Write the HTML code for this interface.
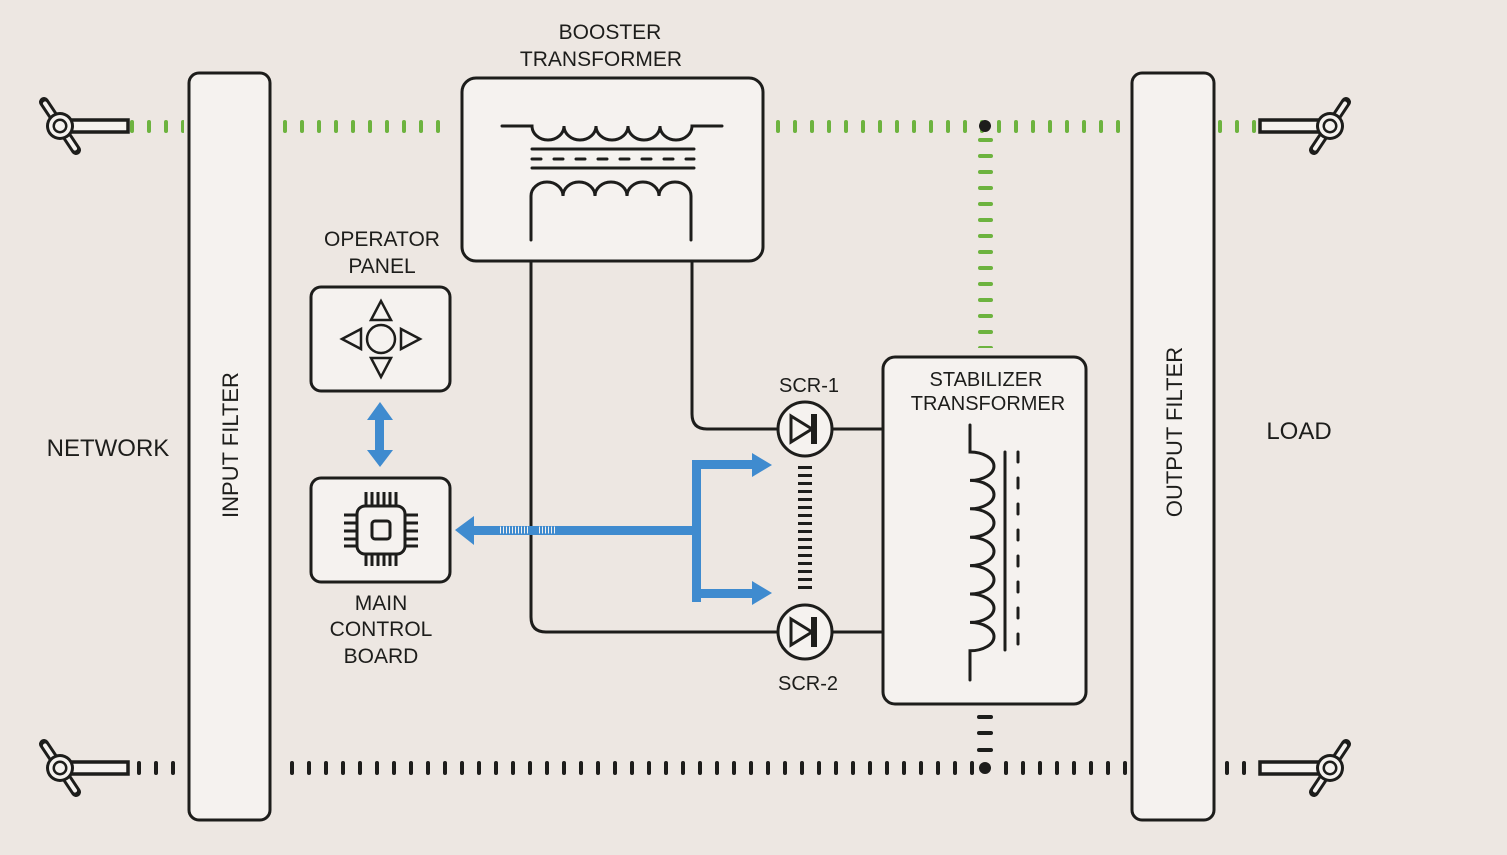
<!DOCTYPE html>
<html><head><meta charset="utf-8"><style>
html,body{margin:0;padding:0;background:#ede7e2;}
svg{display:block;font-family:"Liberation Sans",Arial,sans-serif;}
</style></head><body>
<svg width="1507" height="855" viewBox="0 0 1507 855" xmlns="http://www.w3.org/2000/svg">
<rect width="1507" height="855" fill="#ede7e2"/>
<defs>
<pattern id="gv" x="130" y="0" width="17" height="855" patternUnits="userSpaceOnUse"><rect x="0" y="120" width="4" height="13" rx="2" fill="#6db33f"/></pattern>
<pattern id="gh" x="0" y="138" width="1507" height="16" patternUnits="userSpaceOnUse"><rect x="978" y="0" width="15" height="4" rx="2" fill="#6db33f"/></pattern>
<pattern id="bv" x="137" y="0" width="17" height="855" patternUnits="userSpaceOnUse"><rect x="0" y="761" width="4" height="14" rx="2" fill="#1d1d1b"/></pattern>
<g id="cl">
<line x1="-16" y1="-24" x2="16" y2="24" stroke="#1d1d1b" stroke-width="10" stroke-linecap="round"/>
<line x1="-15" y1="-22.5" x2="15" y2="22.5" stroke="#f5f2ef" stroke-width="4" stroke-linecap="round"/>
<circle r="14" fill="#1d1d1b"/><circle r="11" fill="#f5f2ef"/><circle r="7.5" fill="#1d1d1b"/><circle r="5" fill="#f5f2ef"/>
</g>
<g id="cr">
<line x1="16" y1="-24" x2="-16" y2="24" stroke="#1d1d1b" stroke-width="10" stroke-linecap="round"/>
<line x1="15" y1="-22.5" x2="-15" y2="22.5" stroke="#f5f2ef" stroke-width="4" stroke-linecap="round"/>
<circle r="14" fill="#1d1d1b"/><circle r="11" fill="#f5f2ef"/><circle r="7.5" fill="#1d1d1b"/><circle r="5" fill="#f5f2ef"/>
</g>
</defs>
<g stroke="#1d1d1b" stroke-width="3" fill="#f5f2ef">
<rect x="189" y="73" width="81" height="747" rx="10"/>
<rect x="1132" y="73" width="82" height="747" rx="10"/>
<rect x="462" y="78" width="301" height="183" rx="14"/>
<rect x="311" y="287" width="139" height="104" rx="10"/>
<rect x="311" y="478" width="139" height="104" rx="10"/>
<rect x="883" y="357" width="203" height="347" rx="12"/>
</g>
<rect x="128" y="115" width="56" height="25" fill="url(#gv)"/>
<rect x="277" y="115" width="172" height="25" fill="url(#gv)"/>
<rect x="770" y="115" width="358" height="25" fill="url(#gv)"/>
<rect x="1218" y="115" width="42" height="25" fill="url(#gv)"/>
<rect x="970" y="138" width="30" height="210" fill="url(#gh)"/>
<circle cx="985" cy="126" r="6" fill="#1d1d1b"/>
<rect x="135" y="755" width="40" height="25" fill="url(#bv)"/>
<rect x="284" y="755" width="845" height="25" fill="url(#bv)"/>
<rect x="1218" y="755" width="42" height="25" fill="url(#bv)"/>
<rect x="977" y="755" width="16" height="25" fill="#ede7e2"/>
<circle cx="985" cy="768" r="6" fill="#1d1d1b"/>
<g fill="#1d1d1b"><rect x="977" y="715" width="16" height="4" rx="2"/><rect x="977" y="731" width="16" height="4" rx="2"/><rect x="977" y="748" width="16" height="4" rx="2"/></g>
<g stroke="#1d1d1b" stroke-width="3.5" fill="#f5f2ef">
<rect x="66" y="120" width="62" height="12"/>
<rect x="66" y="762" width="62" height="12"/>
<rect x="1260" y="120" width="64" height="12"/>
<rect x="1260" y="762" width="64" height="12"/>
</g>
<use href="#cl" x="60" y="126"/>
<use href="#cl" x="60" y="768"/>
<use href="#cr" x="1330" y="126"/>
<use href="#cr" x="1330" y="768"/>
<g stroke="#1d1d1b" stroke-width="3" fill="none" stroke-linecap="round">
<path d="M502 126 H532 a16 14 0 0 0 32 0 a16 14 0 0 0 32 0 a16 14 0 0 0 32 0 a16 14 0 0 0 32 0 a16 14 0 0 0 32 0 H722"/>
<line x1="532" y1="149" x2="694" y2="149"/>
<line x1="532" y1="168" x2="694" y2="168"/>
<line x1="532" y1="159" x2="694" y2="159" stroke-dasharray="9 13"/>
<path d="M531 240 V196 a16 14 0 0 1 32 0 a16 14 0 0 1 32 0 a16 14 0 0 1 32 0 a16 14 0 0 1 32 0 a16 14 0 0 1 32 0 V240"/>
<path d="M692 261 V414 q0 15 15 15 H778"/>
<path d="M531 261 V617 q0 15 15 15 H778"/>
<line x1="832" y1="429" x2="883" y2="429"/>
<line x1="832" y1="632" x2="883" y2="632"/>
<path d="M970 425 V452 a24 14.2 0 0 1 0 28.4 a24 14.2 0 0 1 0 28.4 a24 14.2 0 0 1 0 28.4 a24 14.2 0 0 1 0 28.4 a24 14.2 0 0 1 0 28.4 a24 14.2 0 0 1 0 28.4 a24 14.2 0 0 1 0 28.4 V680"/>
<line x1="1005" y1="452" x2="1005" y2="650"/>
<line x1="1018" y1="452" x2="1018" y2="650" stroke-dasharray="10 16"/>
<circle cx="805" cy="429" r="27" fill="#f5f2ef"/>
<circle cx="805" cy="632" r="27" fill="#f5f2ef"/>
<path d="M791 416 L812 429 L791 442 Z"/>
<path d="M791 619 L812 632 L791 645 Z"/>
</g>
<rect x="811" y="414" width="6" height="30" fill="#1d1d1b"/>
<rect x="811" y="617" width="6" height="30" fill="#1d1d1b"/>
<line x1="805" y1="466" x2="805" y2="594" stroke="#1d1d1b" stroke-width="14" stroke-dasharray="3 5"/>
<g stroke="#1d1d1b" stroke-width="2.5" fill="none">
<circle cx="381" cy="339" r="14"/>
<path d="M381 301 L371 320 H391 Z"/>
<path d="M381 377 L371 358 H391 Z"/>
<path d="M342 339 L361 329 V349 Z"/>
<path d="M420 339 L401 329 V349 Z"/>
</g>
<g stroke="#1d1d1b" stroke-width="3" fill="none">
<rect x="357" y="506" width="48" height="48" rx="8"/>
<rect x="372" y="521" width="18" height="18" rx="3"/>
<path d="M366 492 V506 M372 492 V506 M378 492 V506 M384 492 V506 M390 492 V506 M396 492 V506"/>
<path d="M366 554 V566 M372 554 V566 M378 554 V566 M384 554 V566 M390 554 V566 M396 554 V566"/>
<path d="M344 515 H357 M344 523 H357 M344 531 H357 M344 539 H357 M344 546 H357"/>
<path d="M405 515 H418 M405 523 H418 M405 531 H418 M405 539 H418 M405 546 H418"/>
</g>
<g fill="#3f8bcf">
<rect x="472" y="526" width="226" height="9"/>
<path d="M455 530 L474 516 V545 Z"/>
<rect x="692" y="460" width="9" height="142"/>
<rect x="692" y="460" width="60" height="9"/>
<path d="M772 465 L752 453 V477 Z"/>
<rect x="692" y="589" width="60" height="9"/>
<path d="M772 593 L752 581 V605 Z"/>
<rect x="375" y="415" width="9" height="40"/>
<path d="M380 402 L367 420 H393 Z"/>
<path d="M380 467 L367 450 H393 Z"/>
</g>
<line x1="500" y1="530" x2="530" y2="530" stroke="#f5f2ef" stroke-width="7" stroke-dasharray="1 2"/>
<line x1="539" y1="530" x2="557" y2="530" stroke="#f5f2ef" stroke-width="7" stroke-dasharray="1 2"/>
<g fill="#1d1d1b" font-size="21" text-anchor="middle">
<text x="610" y="39">BOOSTER</text>
<text x="601" y="66">TRANSFORMER</text>
<text x="382" y="246">OPERATOR</text>
<text x="382" y="273">PANEL</text>
<text x="381" y="610">MAIN</text>
<text x="381" y="636">CONTROL</text>
<text x="381" y="663">BOARD</text>
<text x="108" y="456" font-size="24">NETWORK</text>
<text x="1299" y="439" font-size="24">LOAD</text>
<text x="809" y="392" font-size="20">SCR-1</text>
<text x="808" y="690" font-size="20">SCR-2</text>
<text x="986" y="386" font-size="20">STABILIZER</text>
<text x="988" y="410" font-size="20">TRANSFORMER</text>
<text transform="translate(238,445) rotate(-90)" font-size="22">INPUT FILTER</text>
<text transform="translate(1182,432) rotate(-90)" font-size="22">OUTPUT FILTER</text>
</g>
</svg>
</body></html>
